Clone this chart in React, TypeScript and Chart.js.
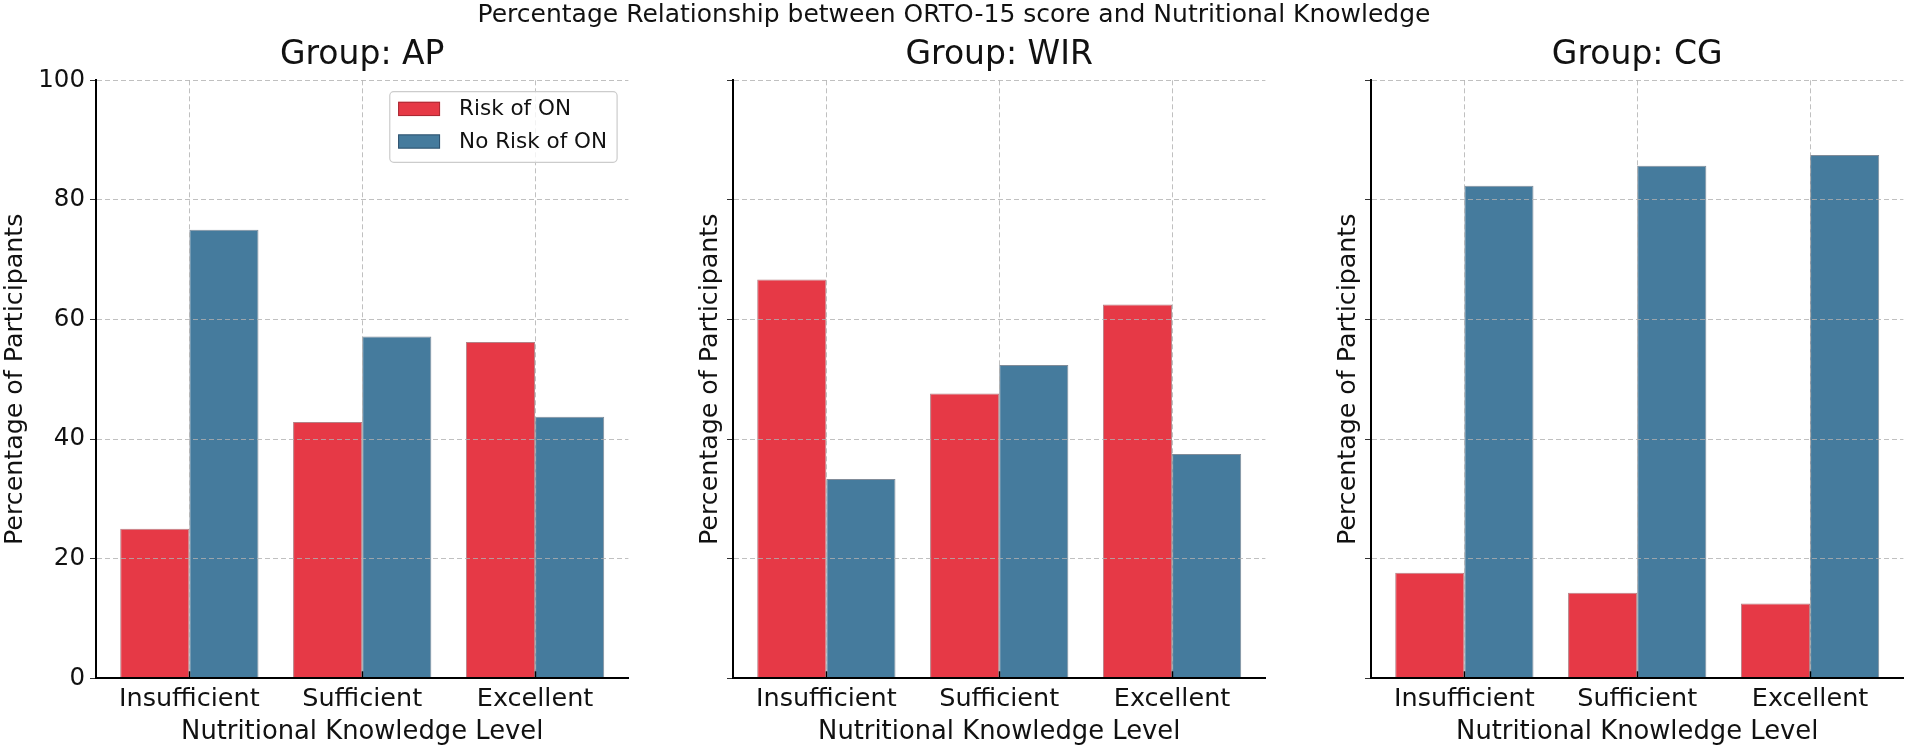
import React, { useEffect, useRef } from "react";
import { Chart, registerables } from "chart.js";

Chart.register(...registerables);

// ---------- data ----------
const categories = ["Insufficient", "Sufficient", "Excellent"];
const seriesLabels = ["Risk of ON", "No Risk of ON"];
const groupNames = ["AP", "WIR", "CG"];
const riskAP = [25.0, 42.86, 56.25];
const noRiskAP = [75.0, 57.14, 43.75];
const riskWIR = [66.67, 47.62, 62.5];
const noRiskWIR = [33.33, 52.38, 37.5];
const riskCG = [17.65, 14.29, 12.5];
const noRiskCG = [82.35, 85.71, 87.5];
const yTickValues = [0, 20, 40, 60, 80, 100];
const suptitleText = "Percentage Relationship between ORTO-15 score and Nutritional Knowledge";
const xTitleText = "Nutritional Knowledge Level";
const yTitleText = "Percentage of Participants";

// ---------- style ----------
const FONT = "'DejaVu Sans', 'Liberation Sans', sans-serif";
const RED = "#e63946";
const BLUE = "#457b9d";
const RED_EDGE = "rgba(120,25,35,0.55)";
const BLUE_EDGE = "rgba(25,45,70,0.55)";
const GRID = "rgba(176,176,176,0.8)";
const TEXT = "#111111";

const legendPlugin = {
  id: "boxLegend",
  afterDraw(chart: any, _args: any, opts: any) {
    if (!opts || !opts.show) return;
    const { ctx, chartArea } = chart;
    ctx.save();
    ctx.font = `21.5px ${FONT}`;
    const items = chart.data.datasets.map((ds: any) => ({
      label: ds.label,
      fill: ds.backgroundColor,
      stroke: ds.borderColor,
    }));
    const textW = Math.max(...items.map((it: any) => ctx.measureText(it.label).width));
    const padL = 8.3, patchW = 42, patchH = 14.3, gap = 19, padR = 10;
    const w = padL + patchW + gap + textW + padR;
    const h = 70.6;
    const right = chartArea.right - 11.3;
    const left = right - w;
    const top = chartArea.top + 11.4;
    ctx.beginPath();
    if (ctx.roundRect) ctx.roundRect(left, top, w, h, 4);
    else ctx.rect(left, top, w, h);
    ctx.fillStyle = "rgba(255,255,255,0.8)";
    ctx.fill();
    ctx.strokeStyle = "#cccccc";
    ctx.lineWidth = 1.2;
    ctx.stroke();
    items.forEach((it: any, i: number) => {
      const cy = top + 17.2 + i * 32.6;
      ctx.fillStyle = it.fill;
      ctx.fillRect(left + padL, cy - patchH / 2, patchW, patchH);
      ctx.strokeStyle = it.stroke;
      ctx.lineWidth = 1;
      ctx.strokeRect(left + padL + 0.5, cy - patchH / 2 + 0.5, patchW - 1, patchH - 1);
      ctx.fillStyle = TEXT;
      ctx.textBaseline = "middle";
      ctx.textAlign = "left";
      ctx.fillText(it.label, left + padL + patchW + gap, cy + 1);
    });
    ctx.restore();
  },
};

type PanelProps = {
  group: string;
  risk: number[];
  noRisk: number[];
  left: number;
  width: number;
  rightPad: number;
  showYLabels: boolean;
  showLegend: boolean;
  yTitlePad: number;
};

function Panel(p: PanelProps) {
  const ref = useRef<HTMLCanvasElement | null>(null);
  useEffect(() => {
    if (!ref.current) return;
    const chart = new Chart(ref.current, {
      type: "bar",
      data: {
        datasets: [
          {
            label: seriesLabels[0],
            data: p.risk.map((v, i) => ({ x: i, y: v })),
            backgroundColor: RED,
            borderColor: RED_EDGE,
            borderWidth: 1,
            categoryPercentage: 0.8,
            barPercentage: 1.0,
          },
          {
            label: seriesLabels[1],
            data: p.noRisk.map((v, i) => ({ x: i, y: v })),
            backgroundColor: BLUE,
            borderColor: BLUE_EDGE,
            borderWidth: 1,
            categoryPercentage: 0.8,
            barPercentage: 1.0,
          },
        ],
      } as any,
      options: {
        responsive: false,
        animation: false,
        devicePixelRatio: 1,
        layout: { padding: { left: 0, right: p.rightPad, top: 0, bottom: 0 } },
        plugins: {
          legend: { display: false },
          tooltip: { enabled: false },
          title: {
            display: true,
            text: `Group: ${p.group}`,
            fullSize: false,
            color: TEXT,
            font: { family: FONT, size: 33, weight: "normal" },
            padding: { top: 35.2, bottom: 5.5 },
          },
          boxLegend: { show: p.showLegend },
        } as any,
        scales: {
          x: {
            type: "linear",
            min: -0.54,
            max: 2.54,
            offset: false,
            afterBuildTicks: (s: any) => {
              s.ticks = categories.map((_, i) => ({ value: i }));
            },
            afterFit: (s: any) => {
              s.height = 71.7;
            },
            ticks: {
              autoSkip: false,
              maxRotation: 0,
              minRotation: 0,
              padding: 12.5,
              color: TEXT,
              font: { family: FONT, size: 25.5 },
              callback: (v: any) => categories[Math.round(Number(v))] ?? "",
            },
            grid: {
              offset: false,
              color: GRID,
              lineWidth: 1,
              z: 1,
              drawTicks: true,
              tickLength: -7,
              tickColor: "#000",
              tickWidth: 1.5,
              tickBorderDash: [],
            },
            border: { display: true, color: "#000", width: 2, z: 2, dash: [5, 3] },
            title: {
              display: true,
              text: xTitleText,
              color: TEXT,
              font: { family: FONT, size: 25.8 },
              padding: { top: 0, bottom: 2 },
            },
          },
          y: {
            type: "linear",
            min: 0,
            max: 100,
            afterBuildTicks: (s: any) => {
              s.ticks = yTickValues.map((v) => ({ value: v }));
            },
            afterFit: (s: any) => {
              s.width = 96;
            },
            ticks: {
              display: p.showYLabels,
              padding: 5,
              color: TEXT,
              font: { family: FONT, size: 24.5 },
            },
            grid: {
              color: GRID,
              lineWidth: 1,
              z: 1,
              drawTicks: true,
              tickLength: 6,
              tickColor: "#333",
              tickWidth: 1,
              tickBorderDash: [],
            },
            border: { display: true, color: "#000", width: 2, z: 2, dash: [5, 3] },
            title: {
              display: true,
              text: yTitleText,
              color: TEXT,
              font: { family: FONT, size: 25.3 },
              padding: { top: p.yTitlePad, bottom: 0 },
            },
          },
        } as any,
      },
      plugins: [legendPlugin as any],
    });
    return () => chart.destroy();
  }, []);
  return (
    <canvas
      ref={ref}
      width={p.width}
      height={750}
      style={{ position: "absolute", left: p.left, top: 0, width: p.width, height: 750 }}
    />
  );
}

export default function App() {
  const riskSets = [riskAP, riskWIR, riskCG];
  const noRiskSets = [noRiskAP, noRiskWIR, noRiskCG];
  const lefts = [0, 637, 1275];
  const widths = [637, 638, 633];
  const rightPads = [8.6, 9.6, 4.6];
  const yPads = [0, 58.5, 58.5];
  return (
    <div
      style={{
        position: "absolute",
        left: 0,
        top: 0,
        width: 1908,
        height: 750,
        background: "#ffffff",
        overflow: "hidden",
      }}
    >
      {groupNames.map((g, i) => (
        <Panel
          key={g}
          group={g}
          risk={riskSets[i]}
          noRisk={noRiskSets[i]}
          left={lefts[i]}
          width={widths[i]}
          rightPad={rightPads[i]}
          showYLabels={i === 0}
          showLegend={i === 0}
          yTitlePad={yPads[i]}
        />
      ))}
      <div
        style={{
          position: "absolute",
          left: 0,
          top: 0,
          width: 1908,
          textAlign: "center",
          fontFamily: FONT,
          fontSize: 25,
          lineHeight: "28px",
          color: TEXT,
          whiteSpace: "nowrap",
        }}
      >
        {suptitleText}
      </div>
    </div>
  );
}
